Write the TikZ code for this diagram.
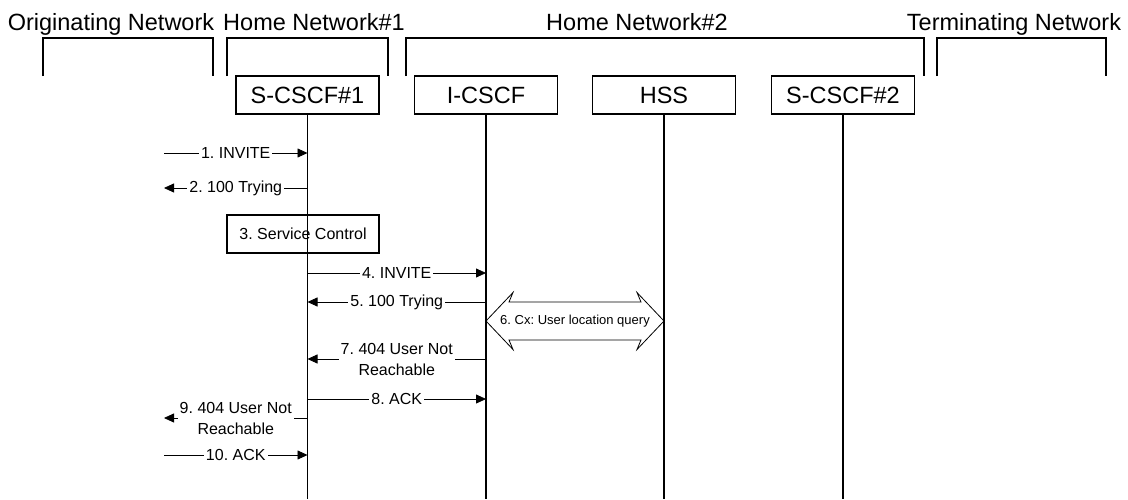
\documentclass[tikz,border=0pt]{standalone}
\usepackage{fontspec}
\setmainfont{Liberation Sans}
\usetikzlibrary{arrows.meta,calc}
\frenchspacing
\begin{document}
\begin{tikzpicture}
  [x=1pt,y=-1pt,
   net/.style={font=\fontsize{23.5}{26}\selectfont,anchor=base,inner sep=0pt},
   entity/.style={draw,line width=1.2pt,minimum width=143pt,minimum height=38pt,
     inner sep=0pt,font=\fontsize{23.5}{26}\selectfont},
   life/.style={line width=1.3pt},
   msg/.style={line width=0.8pt,-{Triangle[length=10pt,width=9pt]}},
   lbl/.style={fill=white,inner xsep=2pt,inner ysep=1pt,align=center,
     font=\fontsize{16}{21}\selectfont}]
  \useasboundingbox (0,0) rectangle (1128,499);

  % network titles and brackets
  \node[net] (orignet) at (111,30) {Originating Network};
  \node[net] (homeone) at (314,30) {Home Network\#1};
  \node[net] (hometwo) at (637,30) {Home Network\#2};
  \node[net] (termnet) at (1014,30) {Terminating Network};
  \foreach \l/\r in {43/213,227/388,406/924,937/1106}
    \draw[line width=1.2pt] (\l,76) |- (\r,38) -- (\r,76);

  % entities
  \node[entity] (scscfa) at (307.5,95) {S-CSCF\#1};
  \node[entity] (icscf) at (486,95) {I-CSCF};
  \node[entity] (hss) at (664,95) {HSS};
  \node[entity] (scscfb) at (843,95) {S-CSCF\#2};
  \coordinate (orig) at (164,120);

  \foreach \n in {scscfa,icscf,hss,scscfb}
    \draw[life] (\n.south) -- (\n |- 0,499);

  \node[draw,line width=1.2pt,minimum width=152pt,minimum height=38pt,inner sep=0pt,
    font=\fontsize{16}{21}\selectfont] (svc) at (303,234) {3. Service Control};

  % messages
  \foreach \y/\from/\to/\txt in {153/orig/scscfa/{1. INVITE},
    188/scscfa/orig/{2. 100 Trying},273/scscfa/icscf/{4. INVITE},
    302/icscf/scscfa/{5. 100 Trying},359/icscf/scscfa/{7. 404 User Not\\Reachable},
    399/scscfa/icscf/{8. ACK},418/scscfa/orig/{9. 404 User Not\\Reachable},
    455/orig/scscfa/{10. ACK}}
    \draw[msg] (\from |- 0,\y) -- node[lbl] {\txt} (\to |- 0,\y);

  % Cx query
  \coordinate (cxl) at (icscf |- 0,321);
  \coordinate (cxr) at (hss |- 0,321);
  \draw[line width=0.8pt,fill=white] (cxl) -- ++(27,-28.5) -- ++(-4,9.5)
    -- ($(cxr)+(-23,-19)$) -- ++(-4,-9.5) -- (cxr) -- ++(-27,28.5) -- ++(4,-9.5)
    -- ($(cxl)+(23,19)$) -- ++(4,9.5) -- cycle;
  \node[font=\fontsize{13}{15}\selectfont] (cx) at ($(cxl)!0.5!(cxr)$) {6. Cx: User location query};
\end{tikzpicture}
\end{document}
